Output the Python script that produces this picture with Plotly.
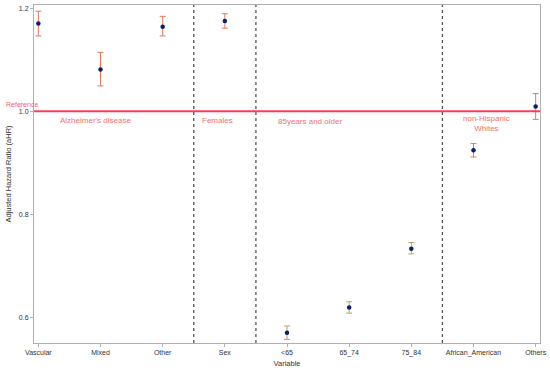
import plotly.graph_objects as go

categories = ["Vascular", "Mixed", "Other", "Sex", "<65", "65_74", "75_84", "African_American", "Others"]
ahr = [1.170, 1.081, 1.164, 1.175, 0.570, 0.619, 0.733, 0.924, 1.009]
ci_low = [1.146, 1.049, 1.146, 1.161, 0.557, 0.608, 0.723, 0.911, 0.984]
ci_high = [1.194, 1.114, 1.184, 1.189, 0.583, 0.630, 0.745, 0.937, 1.034]
bar_color = ["#e07a5f", "#e07a5f", "#e07a5f", "#e07a5f", "#b5a36a", "#b5a36a", "#b5a36a", "#e07a5f", "#e07a5f"]

group_dividers = [2.5, 3.5, 6.5]
group_labels = [
    ("Alzheimer's disease", 0.92, 0.981),
    ("Females", 2.88, 0.981),
    ("85years and older", 4.37, 0.979),
    ("non-Hispanic<br>Whites", 7.21, 0.976),
]
reference_value = 1.0

fig = go.Figure()
for i, c in enumerate(categories):
    fig.add_trace(go.Scatter(
        x=[i], y=[ahr[i]], mode="markers",
        marker=dict(color="#0b1f6b", size=4.5),
        error_y=dict(type="data", symmetric=False,
                     array=[ci_high[i] - ahr[i]], arrayminus=[ahr[i] - ci_low[i]],
                     color=bar_color[i], thickness=1, width=3),
        showlegend=False, hoverinfo="skip"))

for d in group_dividers:
    fig.add_shape(type="line", x0=d, x1=d, y0=0, y1=1, yref="paper", xref="x",
                  line=dict(color="#555555", width=1.3, dash="dot"))

fig.add_shape(type="line", x0=0, x1=1, xref="paper", y0=reference_value, y1=reference_value, yref="y",
              line=dict(color="#ff3b5c", width=2))

fig.add_annotation(text="Reference", x=-0.003, xref="paper", xanchor="right", y=reference_value, yref="y",
                   yanchor="bottom", showarrow=False, font=dict(size=7, color="#ff5a6e"), yshift=1,
                   xshift=8)

for txt, x, y in group_labels:
    fig.add_annotation(text=txt, x=x, y=y, showarrow=False, font=dict(size=8, color="#f07070"),
                       xanchor="center", yanchor="middle")

fig.update_layout(
    width=550, height=373,
    margin=dict(l=34, r=10, t=5, b=30, autoexpand=False),
    paper_bgcolor="white", plot_bgcolor="white",
    font=dict(family="Liberation Sans, Arial, sans-serif", size=7, color="#333333"),
    xaxis=dict(range=[-0.07, 8.07], tickmode="array", tickvals=list(range(len(categories))),
               ticktext=categories, showgrid=False, zeroline=False, automargin=False,
               showline=True, linecolor="#b0b0b0", mirror=True,
               ticks="outside", ticklen=3, tickcolor="#b0b0b0",
               title=dict(text="Variable", font=dict(size=7.5), standoff=4)),
    yaxis=dict(range=[0.55, 1.206], tickvals=[0.6, 0.8, 1.0, 1.2], ticktext=["0.6", "0.8", "1.0", "1.2"],
               showgrid=False, zeroline=False, automargin=False,
               showline=True, linecolor="#b0b0b0", mirror=True,
               ticks="outside", ticklen=3, tickcolor="#b0b0b0",
               title=dict(text="Adjusted Hazard Ratio (aHR)", font=dict(size=7.5), standoff=6)),
)

fig.write_html("out.html", config={"displayModeBar": False},
               post_script="document.body.style.margin='0';")
